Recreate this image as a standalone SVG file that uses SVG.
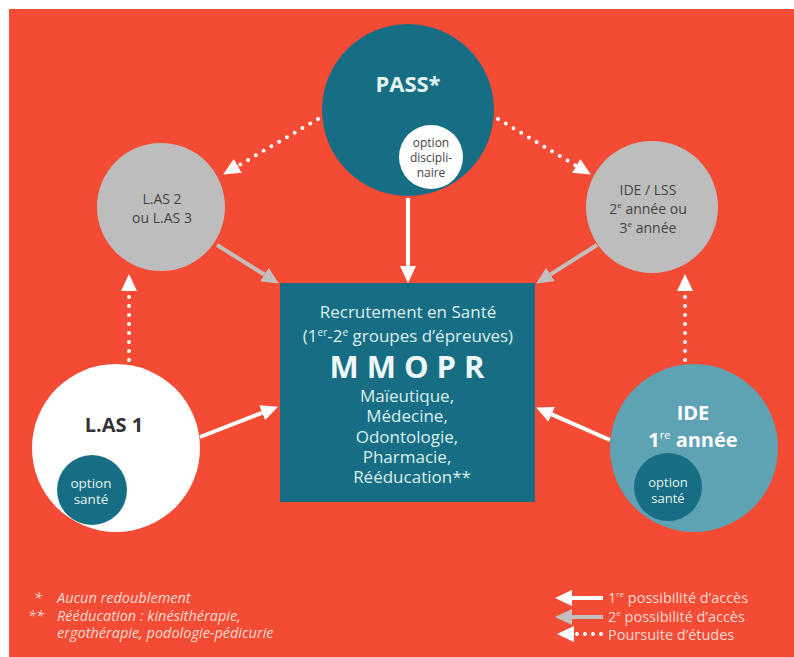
<svg xmlns="http://www.w3.org/2000/svg" width="794" height="657" viewBox="0 0 794 657">
<defs>
<style>
text{font-family:"Open Sans","Noto Sans","Liberation Sans",sans-serif;}
.c{text-anchor:middle}
.sol{stroke:#fff;stroke-width:4;fill:none}
.gry{stroke:#c4bfbf;stroke-width:4;fill:none}
.dot{stroke:#fff;stroke-width:4;stroke-dasharray:0 9;stroke-linecap:round;fill:none}
.box{fill:#dcf0f0;font-size:17px}
.lst{fill:#dcf0f0;font-size:17px}
.foot{fill:#fbd9cf;font-size:14.5px;font-style:italic}
.leg{fill:#fbd9cf;font-size:14.5px}
</style>
<marker id="hw" markerUnits="userSpaceOnUse" markerWidth="18" markerHeight="16" refX="0" refY="8" orient="auto" viewBox="0 0 18 16">
<path d="M0,0 L17,8 L0,16 z" fill="#fff"/>
</marker>
<marker id="hg" markerUnits="userSpaceOnUse" markerWidth="18" markerHeight="16" refX="0" refY="8" orient="auto" viewBox="0 0 18 16">
<path d="M0,0 L17,8 L0,16 z" fill="#c4bfbf"/>
</marker>
</defs>
<rect width="794" height="657" fill="#fff"/>
<rect x="9" y="9" width="785" height="648" fill="#f44b35"/>

<g id="connectors">
<line class="sol" x1="408" y1="198" x2="408" y2="266" marker-end="url(#hw)"/>
<line class="gry" x1="217" y1="245" x2="264.4" y2="274.5" marker-end="url(#hg)"/>
<line class="gry" x1="597" y1="245" x2="550.5" y2="274.4" marker-end="url(#hg)"/>
<line class="sol" x1="200" y1="437" x2="262.1" y2="412.8" marker-end="url(#hw)"/>
<line class="sol" x1="610" y1="440" x2="551.7" y2="414.4" marker-end="url(#hw)"/>
<line class="dot" x1="318" y1="119" x2="237.8" y2="165.9" marker-end="url(#hw)"/>
<line class="dot" x1="498" y1="119" x2="576.2" y2="165.8" marker-end="url(#hw)"/>
<line class="dot" x1="129" y1="360" x2="129" y2="291" marker-end="url(#hw)"/>
<line class="dot" x1="685" y1="360" x2="685" y2="291" marker-end="url(#hw)"/>
</g>

<g id="pass">
<circle cx="408" cy="110" r="86" fill="#176d83"/>
<text x="408" y="92" class="c" fill="#e4f4f4" font-size="22" font-weight="bold">PASS*</text>
<circle cx="431" cy="157" r="32" fill="#fff"/>
<text x="431" y="147" class="c" fill="#444" font-size="12">option</text>
<text x="431" y="162" class="c" fill="#444" font-size="12">discipli-</text>
<text x="431" y="177" class="c" fill="#444" font-size="12">naire</text>
</g>

<g id="las23">
<circle cx="161" cy="207" r="64" fill="#bdbdbd"/>
<text x="162" y="204" class="c" fill="#444" font-size="14">L.AS 2</text>
<text x="162" y="223" class="c" fill="#444" font-size="14">ou L.AS 3</text>
</g>

<g id="idelss">
<circle cx="652" cy="207" r="66" fill="#bdbdbd"/>
<text x="648" y="195" class="c" fill="#444" font-size="14">IDE / LSS</text>
<text x="648" y="214" class="c" fill="#444" font-size="14">2<tspan font-size="8" dy="-6">e</tspan><tspan dy="6"> année ou</tspan></text>
<text x="648" y="233" class="c" fill="#444" font-size="14">3<tspan font-size="8" dy="-6">e</tspan><tspan dy="6"> année</tspan></text>
</g>

<g id="mmopr">
<rect x="280" y="283" width="255" height="219" fill="#176d83"/>
<text x="408" y="318" class="c box">Recrutement en Santé</text>
<text x="408" y="342" class="c box">(1<tspan font-size="10" dy="-6">er</tspan><tspan dy="6">-2</tspan><tspan font-size="10" dy="-6">e</tspan><tspan dy="6"> groupes d’épreuves)</tspan></text>
<text x="411" y="378" class="c" fill="#eef8f8" font-size="31" font-weight="bold" letter-spacing="8">MMOPR</text>
<text x="407" y="402" class="c lst">Maïeutique,</text>
<text x="407" y="422" class="c lst">Médecine,</text>
<text x="407" y="443" class="c lst">Odontologie,</text>
<text x="407" y="463" class="c lst">Pharmacie,</text>
<text x="412" y="483" class="c lst">Rééducation**</text>
</g>

<g id="las1">
<circle cx="116" cy="448" r="84" fill="#fff"/>
<text x="114" y="432" class="c" fill="#333" font-size="20" font-weight="bold">L.AS 1</text>
<circle cx="92" cy="490" r="35" fill="#176d83"/>
<text x="91" y="488" class="c" fill="#e4f4f4" font-size="13.5">option</text>
<text x="91" y="504" class="c" fill="#e4f4f4" font-size="13.5">santé</text>
</g>

<g id="ide1">
<circle cx="694" cy="448" r="84" fill="#5ea3b4"/>
<text x="693" y="420" class="c" fill="#fff" font-size="20" font-weight="bold">IDE</text>
<text x="693" y="447" class="c" fill="#fff" font-size="20" font-weight="bold">1<tspan font-size="11" dy="-8" font-weight="normal">re</tspan><tspan dy="8"> année</tspan></text>
<circle cx="668" cy="487" r="34" fill="#176d83"/>
<text x="668" y="487" class="c" fill="#e4f4f4" font-size="13">option</text>
<text x="668" y="503" class="c" fill="#e4f4f4" font-size="13">santé</text>
</g>

<g id="footnotes">
<text x="34" y="603" class="foot">*</text>
<text x="57" y="603" class="foot">Aucun redoublement</text>
<text x="28" y="621" class="foot">**</text>
<text x="57" y="621" class="foot">Rééducation : kinésithérapie,</text>
<text x="57" y="638" class="foot">ergothérapie, podologie-pédicurie</text>
</g>

<g id="legend">
<line class="sol" x1="603" y1="598" x2="572" y2="598" marker-end="url(#hw)"/>
<line class="gry" x1="603" y1="617" x2="572" y2="617" marker-end="url(#hg)"/>
<line class="dot" x1="601" y1="634" x2="574" y2="634" marker-end="url(#hw)" stroke-width="3.5" style="stroke-dasharray:0 8"/>
<text x="608" y="603" class="leg">1<tspan font-size="8" dy="-6">re</tspan><tspan dy="6"> possibilité d’accès</tspan></text>
<text x="608" y="622" class="leg">2<tspan font-size="8" dy="-6">e</tspan><tspan dy="6"> possibilité d’accès</tspan></text>
<text x="608" y="640" class="leg">Poursuite d’études</text>
</g>
</svg>
